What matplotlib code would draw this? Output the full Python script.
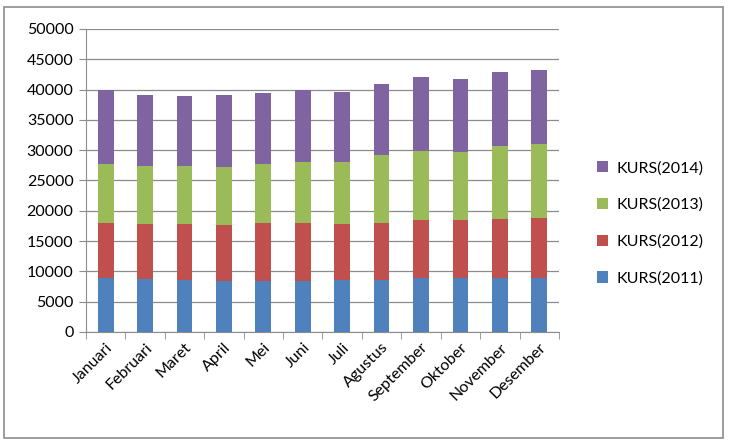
import numpy as np
import matplotlib
matplotlib.use("Agg")
import matplotlib.pyplot as plt
from matplotlib.patches import Rectangle

plt.rcParams['font.family'] = ['Lato', 'DejaVu Sans']

# Data
bulan = ['Januari', 'Februari', 'Maret', 'April', 'Mei', 'Juni', 'Juli',
         'Agustus', 'September', 'Oktober', 'November', 'Desember']
kurs_2011 = [8960, 8800, 8630, 8470, 8470, 8470, 8580, 8580, 8860, 8860, 8960, 8960]
kurs_2012 = [9040, 9000, 9170, 9180, 9530, 9530, 9220, 9420, 9640, 9640, 9690, 9840]
kurs_2013 = [9700, 9650, 9650, 9650, 9800, 10000, 10300, 11200, 11400, 11200, 12050, 12200]
kurs_2014 = [12300, 11600, 11450, 11750, 11700, 11900, 11550, 11700, 12200, 12050, 12150, 12300]

series = [('KURS(2011)', kurs_2011, '#4F81BD'),
          ('KURS(2012)', kurs_2012, '#C0504D'),
          ('KURS(2013)', kurs_2013, '#9BBB59'),
          ('KURS(2014)', kurs_2014, '#8064A2')]

fig = plt.figure(figsize=(7.33, 4.44), dpi=100)
ax = fig.add_axes([0.1173, 0.2523, 0.6453, 0.6824])

x = np.arange(len(bulan))
bottom = np.zeros(len(bulan))
handles = []
for label, vals, color in series:
    h = ax.bar(x, vals, width=0.4, bottom=bottom, color=color, label=label, zorder=3)
    handles.append(h)
    bottom += np.array(vals)

ax.set_xlim(-0.5, len(bulan) - 0.5)
ax.set_ylim(0, 50000)
ax.set_yticks(np.arange(0, 50001, 5000))
ax.yaxis.grid(True, color='#8c8c8c', linewidth=0.9, zorder=0)

ax.set_xticks(x)
ax.set_xticklabels(bulan, rotation=45, ha='right', rotation_mode='anchor', fontsize=11.5)
ax.set_xticks(np.arange(-0.5, len(bulan), 1), minor=True)
ax.tick_params(axis='x', which='major', length=0, pad=6)
ax.tick_params(axis='x', which='minor', length=5, color='#8c8c8c')
ax.tick_params(axis='y', length=5, color='#8c8c8c', labelsize=11.5, pad=4)

for side in ['top', 'right']:
    ax.spines[side].set_visible(False)
for side in ['left', 'bottom']:
    ax.spines[side].set_color('#8c8c8c')

leg = fig.legend(handles[::-1], [s[0] for s in series][::-1],
                 loc='center left', bbox_to_anchor=(0.795, 0.497),
                 frameon=False, fontsize=11.5, handlelength=0.7, handleheight=0.7,
                 handletextpad=0.5, labelspacing=1.4)

fig.patches.append(Rectangle((0.006, 0.013), 0.981, 0.971, transform=fig.transFigure,
                             fill=False, edgecolor='#8c8c8c', linewidth=1.2))

fig.savefig('out.png', dpi=100)
